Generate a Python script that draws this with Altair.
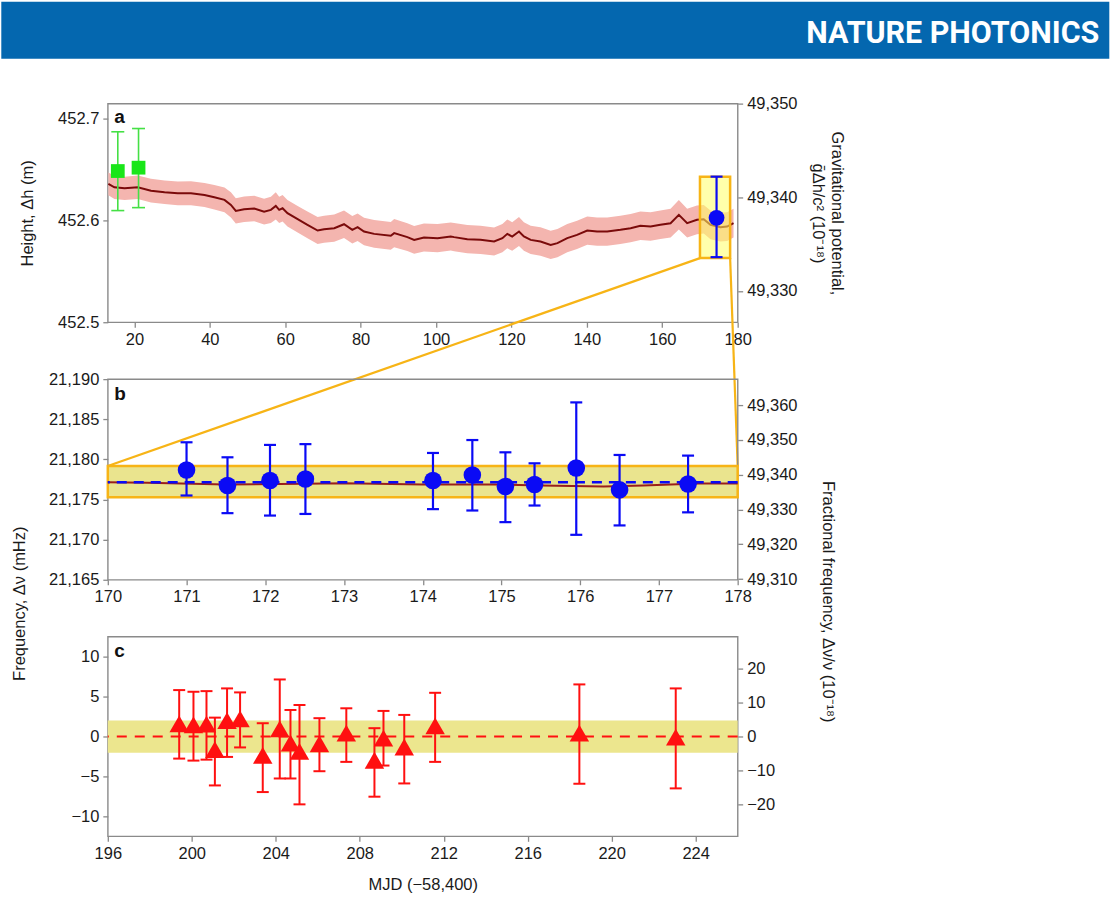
import altair as alt
import pandas as pd

# ---------------- data: panel a (height record) ----------------
a_days = [13.1, 14.7, 17.4, 20.9, 24.4, 28.0, 31.5, 35.0, 38.6, 41.2, 43.9, 45.6, 46.9, 49.1,
          51.8, 54.4, 56.2, 57.5, 58.4, 59.3, 60.6, 63.3, 65.9, 68.6, 70.3, 73.0, 75.6, 77.8,
          79.2, 80.9, 83.6, 88.0, 88.9, 92.4, 94.2, 96.8, 100.4, 103.9, 104.8, 108.3, 111.8,
          115.4, 117.6, 118.9, 120.2, 122.0, 123.3, 125.1, 127.7, 130.4, 132.2, 134.8, 137.4,
          140.1, 142.7, 145.4, 148.9, 151.6, 154.2, 156.9, 159.5, 162.2, 164.4, 166.6, 169.2,
          171.0, 172.8, 175.4, 177.2, 178.9]
a_height = [452.6360, 452.6327, 452.6317, 452.6327, 452.6294, 452.6278, 452.6268, 452.6268,
            452.6252, 452.6229, 452.6203, 452.6154, 452.6095, 452.6111, 452.6118, 452.6088,
            452.6105, 452.6144, 452.6105, 452.6121, 452.6072, 452.6013, 452.5958, 452.5902,
            452.5915, 452.5925, 452.5964, 452.5909, 452.5935, 452.5892, 452.5869, 452.5850,
            452.5876, 452.5837, 452.5810, 452.5833, 452.5827, 452.5843, 452.5837, 452.5817,
            452.5810, 452.5794, 452.5827, 452.5869, 452.5843, 452.5892, 452.5843, 452.5810,
            452.5794, 452.5761, 452.5778, 452.5827, 452.5859, 452.5902, 452.5892, 452.5892,
            452.5909, 452.5925, 452.5948, 452.5941, 452.5958, 452.5974, 452.6056, 452.5974,
            452.6007, 452.6013, 452.5958, 452.5935, 452.5941, 452.5974]
a_band_half = [0.0112, 0.0114, 0.0114, 0.0115, 0.0116, 0.0116, 0.0117, 0.0118, 0.0118, 0.0120,
               0.0122, 0.0124, 0.0125, 0.0125, 0.0126, 0.0127, 0.0130, 0.0134, 0.0130, 0.0130,
               0.0130, 0.0131, 0.0132, 0.0133, 0.0133, 0.0134, 0.0136, 0.0135, 0.0135, 0.0135,
               0.0136, 0.0136, 0.0138, 0.0137, 0.0137, 0.0137, 0.0138, 0.0138, 0.0138, 0.0138,
               0.0138, 0.0138, 0.0139, 0.0142, 0.0140, 0.0142, 0.0140, 0.0139, 0.0139, 0.0139,
               0.0139, 0.0139, 0.0139, 0.0139, 0.0139, 0.0139, 0.0139, 0.0139, 0.0140, 0.0140,
               0.0140, 0.0141, 0.0145, 0.0141, 0.0141, 0.0141, 0.0141, 0.0141, 0.0141, 0.0141]

green_days = [15.6, 21.1]
green_h = [452.6487, 452.6520]
green_lo = [452.6098, 452.6127]
green_hi = [452.6873, 452.6905]

blue_a_day = [174.4]
blue_a_pot = [49337.8]
blue_a_lo = [49333.6]
blue_a_hi = [49342.2]

zoom_days = [170, 178]
zoom_a_pot = [49333.5, 49342.2]     # zoom box in panel a (potential units)
zoom_b_pot = [49333.5, 49342.5]     # zoom box in panel b (potential units)

# ---------------- data: panel b (clock comparison) ----------------
b_days = [171.00, 171.52, 172.06, 172.51, 174.13, 174.63, 175.05, 175.42, 175.95, 176.50, 177.37]
b_freq = [21178.68, 21176.74, 21177.36, 21177.56, 21177.36, 21178.06, 21176.62, 21176.87,
          21178.93, 21176.20, 21176.94]
b_lo = [21175.50, 21173.30, 21173.00, 21173.20, 21173.80, 21173.63, 21172.18, 21174.25,
        21170.60, 21171.77, 21173.40]
b_hi = [21182.13, 21180.26, 21181.80, 21181.90, 21180.80, 21182.41, 21180.88, 21179.51,
        21187.10, 21180.55, 21180.47]
b_mean = [21177.15]
b_trace_days = [170, 170.5, 171.5, 172.5, 173, 174, 174.9, 175.5, 176.3, 176.8, 177.5, 178]
b_trace = [21177.15, 21177.10, 21176.87, 21176.95, 21177.03, 21176.87, 21176.87, 21176.74,
           21176.62, 21176.74, 21177.00, 21177.00]

# ---------------- data: panel c (residuals) ----------------
c_days = [199.40, 200.08, 200.70, 201.10, 201.68, 202.30, 203.38, 204.19, 204.70, 205.13,
          206.08, 207.36, 208.70, 209.13, 210.12, 211.59, 218.46, 223.05]
c_freq = [1.58, 1.46, 1.54, -1.65, 1.99, 2.20, -2.36, 0.96, -0.82, -1.87, -0.91, 0.42, -2.98,
          -0.20, -1.32, 1.33, 0.42, -0.08]
c_lo = [-2.77, -3.02, -2.90, -6.13, -2.56, -1.37, -6.96, -5.26, -5.26, -8.50, -4.35, -3.18,
        -7.54, -3.64, -5.88, -3.18, -5.92, -6.50]
c_hi = [5.81, 5.60, 5.68, 2.36, 6.02, 5.52, 1.66, 7.14, 3.32, 3.94, 2.29, 3.53, 1.04, 3.20,
        2.70, 5.47, 6.52, 6.02]
c_band = [-2.05, 2.0]
c_span = [196, 226]

# ---------------- axes / ticks ----------------
A_X = [12.95, 180]
A_YL = [452.5, 452.715]
A_YR = [49326.65, 49350]
B_X = [170, 178]
B_YL = [21165, 21190]
B_YR = [49309.8, 49367.5]
C_X = [196, 226]
C_YL = [-12.5, 12.5]
C_YR = [-29.2, 29.2]

a_xticks = [20, 40, 60, 80, 100, 120, 140, 160, 180]
a_ylticks = [452.5, 452.6, 452.7]
a_yrticks = [49330, 49340, 49350]
b_xticks = [170, 171, 172, 173, 174, 175, 176, 177, 178]
b_ylticks = [21165, 21170, 21175, 21180, 21185, 21190]
b_yrticks = [49310, 49320, 49330, 49340, 49350, 49360]
c_xticks = [196, 200, 204, 208, 212, 216, 220, 224]
c_ylticks = [-10, -5, 0, 5, 10]
c_yrticks = [-20, -10, 0, 10, 20]

# ---------------- style ----------------
FONT = "Liberation Sans"
FS = 16.5
INK = "#1a1a1a"
FRAME = "#8a8a8a"
ORANGE = "#F7B416"
MAROON = "#7a0a0a"
PINK = "#F4B5AF"
GREEN = "#19E619"
GREEN_BAR = "#45E045"
BLUE = "#0A0AF5"
RED = "#FF1010"

W = 631
H_A, H_B, H_C = 219, 201, 200
GAP = 57


def axis(values, fmt, orient, title=None, **kw):
    return alt.Axis(values=values, format=fmt, orient=orient, title=title, grid=False,
                    domain=False, ticks=True, tickColor=FRAME, tickSize=5, tickWidth=1.3,
                    labelFont=FONT, labelFontSize=FS, labelColor=INK, labelPadding=4,
                    labelFlush=False, labelOverlap=False, titleFont=FONT, titleFontSize=FS,
                    titleFontWeight="normal", titleColor=INK, **kw)


def sc(dom):
    return alt.Scale(domain=dom, nice=False, zero=False)


def xa(field):
    return alt.X(f"{field}:Q", scale=sc(A_X), axis=axis(a_xticks, "d", "bottom"))


def xb(field):
    return alt.X(f"{field}:Q", scale=sc(B_X), axis=axis(b_xticks, "d", "bottom"))


def xc(field):
    return alt.X(f"{field}:Q", scale=sc(C_X),
                 axis=axis(c_xticks, "d", "bottom", title="MJD (\u221258,400)", titlePadding=15))


def yal(field):
    return alt.Y(f"{field}:Q", scale=sc(A_YL),
                 axis=axis(a_ylticks, ".1f", "left", title="Height, \u0394h (m)", titlePadding=22))


def yar(field):
    return alt.Y(f"{field}:Q", scale=sc(A_YR),
                 axis=axis(a_yrticks, ",d", "right",
                           title=["Gravitational potential,", "\u1e21\u0394h/c\u00b2 (10\u207b\u00b9\u2078)"],
                           titlePadding=12, titleLineHeight=20))


def ybl(field):
    return alt.Y(f"{field}:Q", scale=sc(B_YL), axis=axis(b_ylticks, ",d", "left"))


def ybr(field):
    return alt.Y(f"{field}:Q", scale=sc(B_YR), axis=axis(b_yrticks, ",d", "right"))


def ycl(field):
    return alt.Y(f"{field}:Q", scale=sc(C_YL), axis=axis(c_ylticks, "d", "left"))


def ycr(field):
    return alt.Y(f"{field}:Q", scale=sc(C_YR), axis=axis(c_yrticks, "d", "right"))


def caps_df(xs, los, his):
    return pd.DataFrame({"day": list(xs) + list(xs), "v": list(los) + list(his)})


def panel_label(letter, y):
    return alt.Chart(pd.DataFrame({"t": [letter]})).mark_text(
        font=FONT, fontSize=19, fontWeight="bold", color="#111111", align="left",
        baseline="alphabetic").encode(x=alt.value(6.5), y=alt.value(y), text="t:N")


# ---------------- panel a ----------------
a_df = pd.DataFrame({"day": a_days, "h": a_height, "half": a_band_half})
a_df["lo"] = a_df["h"] - a_df["half"]
a_df["hi"] = a_df["h"] + a_df["half"]
g_df = pd.DataFrame({"day": green_days, "h": green_h, "lo": green_lo, "hi": green_hi})

band_a = alt.Chart(a_df).mark_area(color=PINK, opacity=1).encode(
    x=xa("day"), y=yal("lo"), y2="hi")
line_a = alt.Chart(a_df).mark_line(color=MAROON, strokeWidth=2).encode(x=xa("day"), y=yal("h"))
gbar = alt.Chart(g_df).mark_rule(color=GREEN_BAR, strokeWidth=1.6).encode(
    x=xa("day"), y=yal("lo"), y2="hi")
gcap = alt.Chart(caps_df(green_days, green_lo, green_hi)).mark_tick(
    orient="horizontal", size=13, thickness=1.6, color=GREEN_BAR, opacity=1).encode(
    x=xa("day"), y=yal("v"))
gpts = alt.Chart(g_df).mark_square(size=190, color=GREEN, opacity=1).encode(
    x=xa("day"), y=yal("h"))
left_a = alt.layer(band_a, line_a, gbar, gcap, gpts)

# connector from panel-a zoom box to panel-b zoom box (converted through the scales)
b_box_top_px = H_A + GAP + (B_YR[1] - zoom_b_pot[1]) / (B_YR[1] - B_YR[0]) * H_B
link_y = A_YR[1] - b_box_top_px / H_A * (A_YR[1] - A_YR[0])
link_df = pd.DataFrame({"day": zoom_days, "v": [zoom_a_pot[0]] * 2,
                        "day2": A_X, "v2": [link_y, link_y]})
zbox_a_df = pd.DataFrame({"day": [zoom_days[0]], "day2": [zoom_days[1]],
                          "lo": [zoom_a_pot[0]], "hi": [zoom_a_pot[1]]})
ba_df = pd.DataFrame({"day": blue_a_day, "v": blue_a_pot, "lo": blue_a_lo, "hi": blue_a_hi})

zbox_a = alt.Chart(zbox_a_df).mark_rect(fill="#FFFF66", fillOpacity=0.55, stroke=ORANGE,
                                        strokeWidth=2.5).encode(
    x=xa("day"), x2="day2", y=yar("lo"), y2="hi")
link = alt.Chart(link_df).mark_rule(color=ORANGE, strokeWidth=2.2).encode(
    x=xa("day"), x2="day2", y=yar("v"), y2="v2")
bbar_a = alt.Chart(ba_df).mark_rule(color=BLUE, strokeWidth=2.2).encode(
    x=xa("day"), y=yar("lo"), y2="hi")
bcap_a = alt.Chart(caps_df(blue_a_day, blue_a_lo, blue_a_hi)).mark_tick(
    orient="horizontal", size=12, thickness=2.2, color=BLUE, opacity=1).encode(
    x=xa("day"), y=yar("v"))
bpt_a = alt.Chart(ba_df).mark_circle(size=250, color=BLUE, opacity=1).encode(
    x=xa("day"), y=yar("v"))
right_a = alt.layer(zbox_a, link, bbar_a, bcap_a, bpt_a)

header_rect = alt.Chart(pd.DataFrame({"k": [0]})).mark_rect(color="#0467AF").encode(
    x=alt.value(-106.7), x2=alt.value(1110 - 106.7), y=alt.value(-102), y2=alt.value(-45))
header_text = alt.Chart(pd.DataFrame({"t": ["NATURE PHOTONICS"]})).mark_text(
    font="Roboto", fontSize=30.5, fontWeight="bold", color="white", align="right",
    baseline="alphabetic").encode(x=alt.value(1100 - 106.7), y=alt.value(-61), text="t:N")

panel_a = alt.layer(header_rect, header_text, left_a, right_a, panel_label("a", 19)).resolve_scale(
    y="independent").properties(width=W, height=H_A)

# ---------------- panel b ----------------
bdf = pd.DataFrame({"day": b_days, "v": b_freq, "lo": b_lo, "hi": b_hi})
trace_df = pd.DataFrame({"day": b_trace_days, "v": b_trace})
zbox_b_df = pd.DataFrame({"day": [zoom_days[0]], "day2": [zoom_days[1]],
                          "lo": [zoom_b_pot[0]], "hi": [zoom_b_pot[1]]})

zbox_b = alt.Chart(zbox_b_df).mark_rect(fill="#EAE48E", fillOpacity=1, stroke=ORANGE,
                                        strokeWidth=2.5).encode(
    x=xb("day"), x2="day2", y=ybr("lo"), y2="hi")
right_b = alt.layer(zbox_b)

trace_b = alt.Chart(trace_df).mark_line(color="#9a1f1a", strokeWidth=2).encode(
    x=xb("day"), y=ybl("v"))
mean_b = alt.Chart(pd.DataFrame({"v": b_mean})).mark_rule(
    color=BLUE, strokeWidth=2.5, strokeDash=[10, 7]).encode(y=ybl("v"))
bbar = alt.Chart(bdf).mark_rule(color=BLUE, strokeWidth=2.2).encode(
    x=xb("day"), y=ybl("lo"), y2="hi")
bcap = alt.Chart(caps_df(b_days, b_lo, b_hi)).mark_tick(
    orient="horizontal", size=12, thickness=2.2, color=BLUE, opacity=1).encode(
    x=xb("day"), y=ybl("v"))
bpts = alt.Chart(bdf).mark_circle(size=310, color=BLUE, opacity=1).encode(
    x=xb("day"), y=ybl("v"))
left_b = alt.layer(trace_b, mean_b, bbar, bcap, bpts)

title_left = alt.Chart(pd.DataFrame({"t": ["Frequency, \u0394\u03bd (mHz)"]})).mark_text(
    font=FONT, fontSize=FS, color=INK, angle=270, align="center", baseline="middle").encode(
    x=alt.value(19 - 106.7), y=alt.value(603 - 378), text="t:N")
title_right = alt.Chart(pd.DataFrame({"t": ["Fractional frequency, \u0394\u03bd/\u03bd (10\u207b\u00b9\u2078)"]})).mark_text(
    font=FONT, fontSize=FS, color=INK, angle=90, align="center", baseline="middle").encode(
    x=alt.value(828 - 106.7), y=alt.value(601 - 378), text="t:N")

panel_b = alt.layer(right_b, left_b, title_left, title_right, panel_label("b", 20.5)).resolve_scale(
    y="independent").properties(width=W, height=H_B)

# ---------------- panel c ----------------
cdf = pd.DataFrame({"day": c_days, "v": c_freq, "lo": c_lo, "hi": c_hi})
band_c = alt.Chart(pd.DataFrame({"day": [c_span[0]], "day2": [c_span[1]],
                                 "lo": [c_band[0]], "hi": [c_band[1]]})).mark_rect(
    color="#ECE68E", opacity=1).encode(x=xc("day"), x2="day2", y=ycl("lo"), y2="hi")
zero_c = alt.Chart(pd.DataFrame({"v": [0]})).mark_rule(
    color=RED, strokeWidth=2, strokeDash=[10, 8]).encode(y=ycl("v"))
cbar = alt.Chart(cdf).mark_rule(color=RED, strokeWidth=2).encode(
    x=xc("day"), y=ycl("lo"), y2="hi")
ccap = alt.Chart(caps_df(c_days, c_lo, c_hi)).mark_tick(
    orient="horizontal", size=12, thickness=2, color=RED, opacity=1).encode(
    x=xc("day"), y=ycl("v"))
cpts = alt.Chart(cdf).mark_point(shape="triangle-up", filled=True, size=380, color=RED,
                                 opacity=1).encode(x=xc("day"), y=ycl("v"))
left_c = alt.layer(band_c, zero_c, cbar, ccap, cpts)
right_c = alt.Chart(pd.DataFrame({"v": [0]})).mark_point(opacity=0).encode(y=ycr("v"))

panel_c = alt.layer(left_c, right_c, panel_label("c", 20.7)).resolve_scale(
    y="independent").properties(width=W, height=H_C)

chart = alt.vconcat(panel_a, panel_b, panel_c, spacing=GAP, bounds="flush").configure_view(
    stroke=FRAME, strokeWidth=1.4).properties(padding=0, background="white")

chart.save("out.html", embed_options={"renderer": "svg", "actions": False})
